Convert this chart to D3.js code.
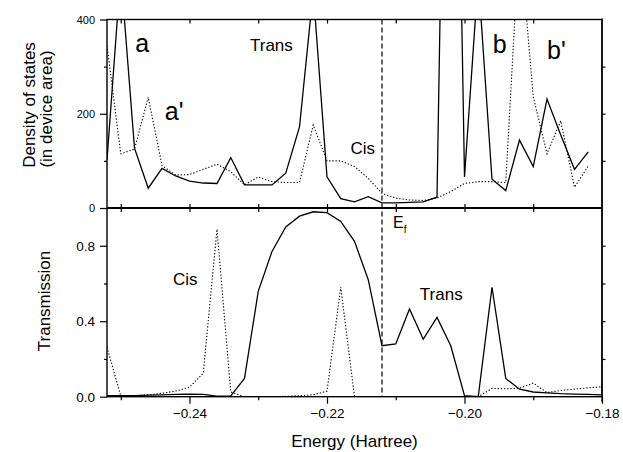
<!DOCTYPE html>
<html><head><meta charset="utf-8">
<script src="https://cdn.jsdelivr.net/npm/d3@7"></script>
<style>body{margin:0;background:#fff}svg{display:block}</style>
</head><body><svg id="c" width="623" height="452"></svg>
<script>
// ---- data ----
const energy = [-0.252,-0.250,-0.248,-0.246,-0.244,-0.242,-0.240,-0.238,-0.236,-0.234,-0.232,-0.230,-0.228,-0.226,-0.224,-0.222,-0.220,-0.218,-0.216,-0.214,-0.212,-0.210,-0.208,-0.206,-0.204,-0.202,-0.200,-0.198,-0.196,-0.194,-0.192,-0.190,-0.188,-0.186,-0.184,-0.182,-0.180];
const dosTrans = [102,500,127,42,84,68,57,53,52,107,49,49,49,74,172,460,66,20,13,24,11,11,12,13,23,1750,66,490,61,37,144,88,231,155,82,119];
const dosCis = [345,115,125,235,90,70,71,82,93,77,49,66,56,54,54,176,100,100,88,63,31,21,17,16,21,35,52,56,56,54,580,236,115,185,44,89];
const transTrans = [0.005,0.005,0.006,0.008,0.010,0.012,0.014,0.012,0.003,0.004,0.097,0.558,0.770,0.900,0.957,0.980,0.975,0.929,0.823,0.620,0.270,0.280,0.465,0.305,0.420,0.270,0.005,0.000,0.580,0.097,0.040,0.025,0.020,0.016,0.014,0.012,0.010];
const transCis = [0.262,0.004,0.005,0.010,0.018,0.030,0.050,0.125,0.887,0.025,0.000,0.000,0.000,0.002,0.005,0.010,0.030,0.580,0.000,0.000,0.000,0.000,0.000,0.000,0.000,0.000,0.000,0.000,0.044,0.042,0.045,0.072,0.022,0.033,0.040,0.047,0.053];
const fermiEnergy = -0.212;
const xMajorTicks = [-0.24,-0.22,-0.20,-0.18];
const xMinorTicks = [-0.25,-0.23,-0.21,-0.19];
const dosMajorTicks = [0,200,400];
const dosMinorTicks = [100,300];
const transMajorTicks = [0.0,0.4,0.8];
const transMinorTicks = [0.2,0.6];
const topLabels = [{t:"a",e:-0.2479,v:330,s:25},{t:"a'",e:-0.2436,v:187,s:25},{t:"Trans",e:-0.2312,v:334,s:17},{t:"Cis",e:-0.2166,v:115,s:17},{t:"b",e:-0.1959,v:328,s:25},{t:"b'",e:-0.1880,v:316,s:25}];
const bottomLabels = [{t:"Cis",e:-0.2424,v:0.592,s:17},{t:"Trans",e:-0.2065,v:0.512,s:17}];

// ---- layout ----
const FONT = "'Liberation Sans', Arial, Helvetica, sans-serif";
const L = 107, R = 602, T1 = 19.5, M = 208, B = 396.7;
const svg = d3.select("#c").style("font-family", FONT);

const x = d3.scaleLinear().domain([-0.252, -0.18]).range([L, R]);
const yDos = d3.scaleLinear().domain([0, 400]).range([M, T1]);
const yTr = d3.scaleLinear().domain([0, 1.0]).range([B, M]);

const defs = svg.append("defs");
defs.append("clipPath").attr("id","clipTop").append("rect").attr("x",L).attr("y",T1).attr("width",R-L).attr("height",M-T1);
defs.append("clipPath").attr("id","clipBot").append("rect").attr("x",L).attr("y",M).attr("width",R-L).attr("height",B-M);

const dosPts = s => s.map((v,i)=>[energy[i], v]);
const lineDos = d3.line().x(d=>x(d[0])).y(d=>yDos(d[1]));
const lineTr = d3.line().x(d=>x(d[0])).y(d=>yTr(d[1]));

const gTop = svg.append("g").attr("clip-path","url(#clipTop)");
gTop.append("path").attr("d", lineDos(dosPts(dosCis))).attr("fill","none").attr("stroke","#000").attr("stroke-width",1.1).attr("stroke-dasharray","1.3,1.9");
gTop.append("path").attr("d", lineDos(dosPts(dosTrans))).attr("fill","none").attr("stroke","#000").attr("stroke-width",1.3).attr("stroke-linejoin","miter");

const gBot = svg.append("g").attr("clip-path","url(#clipBot)");
gBot.append("path").attr("d", lineTr(dosPts(transCis))).attr("fill","none").attr("stroke","#000").attr("stroke-width",1.1).attr("stroke-dasharray","1.3,1.9");
gBot.append("path").attr("d", lineTr(dosPts(transTrans))).attr("fill","none").attr("stroke","#000").attr("stroke-width",1.3);

// Fermi level
svg.append("line").attr("x1",x(fermiEnergy)).attr("x2",x(fermiEnergy)).attr("y1",T1).attr("y2",B)
  .attr("stroke","#000").attr("stroke-width",1.2).attr("stroke-dasharray","5,3");

// ---- axes ----
function styleAxis(g){ g.select(".domain").remove(); g.selectAll("line").attr("stroke","#000").attr("stroke-width",1.2); g.selectAll("text").attr("fill","#000").style("font-family",FONT); }
const allX = xMajorTicks.concat(xMinorTicks).filter(v=>v>-0.252 && v<-0.18);

// top of top panel (inward)
svg.append("g").attr("transform",`translate(0,${T1})`).call(d3.axisBottom(x).tickValues(allX).tickSize(4).tickFormat("")).call(styleAxis);
// middle: ticks up into top panel and down into bottom panel
svg.append("g").attr("transform",`translate(0,${M})`).call(d3.axisTop(x).tickValues(allX).tickSize(4).tickFormat("")).call(styleAxis);
svg.append("g").attr("transform",`translate(0,${M})`).call(d3.axisBottom(x).tickValues(allX).tickSize(4).tickFormat("")).call(styleAxis);
// bottom axis
svg.append("g").attr("transform",`translate(0,${B})`).call(d3.axisBottom(x).tickValues(xMajorTicks).tickSize(7).tickPadding(5).tickFormat(d3.format(".2f"))).call(styleAxis).selectAll("text").style("font-size","13.5px");
svg.append("g").attr("transform",`translate(0,${B})`).call(d3.axisBottom(x).tickValues(xMinorTicks).tickSize(3.5).tickFormat("")).call(styleAxis);

// left axes
svg.append("g").attr("transform",`translate(${L},0)`).call(d3.axisLeft(yDos).tickValues(dosMajorTicks).tickSize(7).tickPadding(5).tickFormat(d3.format("d"))).call(styleAxis).selectAll("text").style("font-size","11px");
svg.append("g").attr("transform",`translate(${L},0)`).call(d3.axisLeft(yDos).tickValues(dosMinorTicks).tickSize(3).tickFormat("")).call(styleAxis);
svg.append("g").attr("transform",`translate(${L},0)`).call(d3.axisLeft(yTr).tickValues(transMajorTicks).tickSize(7).tickPadding(5).tickFormat(d3.format(".1f"))).call(styleAxis).selectAll("text").style("font-size","13.5px");
svg.append("g").attr("transform",`translate(${L},0)`).call(d3.axisLeft(yTr).tickValues(transMinorTicks).tickSize(3).tickFormat("")).call(styleAxis);

// right axes (outward)
svg.append("g").attr("transform",`translate(${R},0)`).call(d3.axisRight(yDos).tickValues([100,200,300]).tickSize(3.5).tickFormat("")).call(styleAxis);
svg.append("g").attr("transform",`translate(${R},0)`).call(d3.axisRight(yTr).tickValues([0.2,0.4,0.6,0.8]).tickSize(3.5).tickFormat("")).call(styleAxis);

// frames
svg.append("rect").attr("x",L).attr("y",T1).attr("width",R-L).attr("height",B-T1).attr("fill","none").attr("stroke","#000").attr("stroke-width",1.4);
svg.append("line").attr("x1",L).attr("x2",R).attr("y1",M).attr("y2",M).attr("stroke","#000").attr("stroke-width",1.9);
svg.append("line").attr("x1",R).attr("x2",R).attr("y1",T1-1).attr("y2",B+5).attr("stroke","#000").attr("stroke-width",1.4);

// ---- annotations ----
topLabels.forEach(d=>svg.append("text").attr("x",x(d.e)).attr("y",yDos(d.v)).text(d.t).style("font-size",d.s+"px").attr("fill","#000"));
bottomLabels.forEach(d=>svg.append("text").attr("x",x(d.e)).attr("y",yTr(d.v)).text(d.t).style("font-size",d.s+"px").attr("fill","#000"));
const ef = svg.append("text").attr("x",x(-0.2104)).attr("y",yTr(0.894)).attr("fill","#000").style("font-size","16px");
ef.append("tspan").text("E");
ef.append("tspan").text("f").attr("dy",5).style("font-size","10px");

// axis titles
svg.append("text").attr("x",(L+R)/2).attr("y",447).attr("text-anchor","middle").style("font-size","17px").text("Energy (Hartree)");
svg.append("text").attr("transform",`translate(50,301) rotate(-90)`).attr("text-anchor","middle").style("font-size","17px").text("Transmission");
svg.append("text").attr("transform",`translate(34.7,105) rotate(-90)`).attr("text-anchor","middle").style("font-size","17px").text("Density of states");
svg.append("text").attr("transform",`translate(51.5,109) rotate(-90)`).attr("text-anchor","middle").style("font-size","17px").text("(in device area)");
</script></body></html>
